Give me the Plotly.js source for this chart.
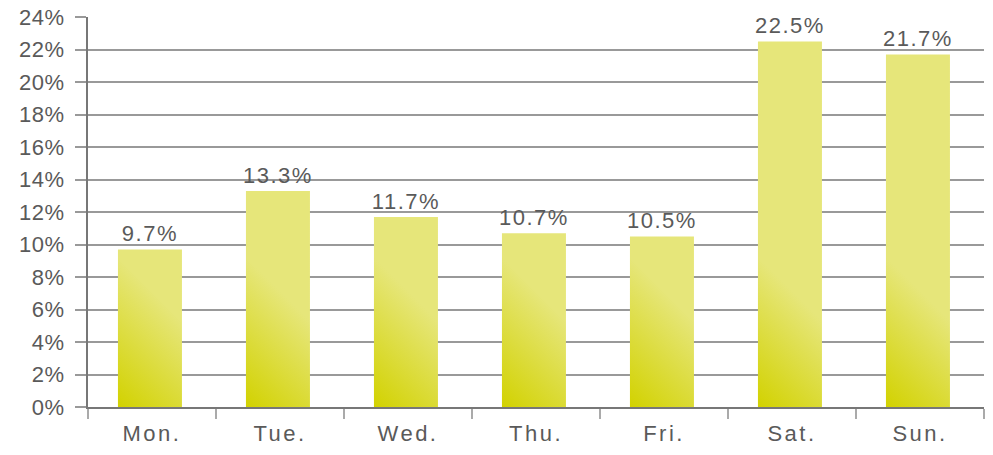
<!DOCTYPE html>
<html>
<head>
<meta charset="utf-8">
<script src="https://cdn.plot.ly/plotly-3.0.1.min.js"></script>
<style>
html,body{margin:0;padding:0;background:#fff;}
#chart{width:993px;height:455px;}
#chart .xtick text{letter-spacing:2.5px;}
#chart .bars text{letter-spacing:1.5px;}
#chart .ytick text{letter-spacing:0.5px;}
</style>
</head>
<body>
<div id="chart"></div>
<script>
const days = ['Mon.', 'Tue.', 'Wed.', 'Thu.', 'Fri.', 'Sat.', 'Sun.'];
const shares = [9.7, 13.3, 11.7, 10.7, 10.5, 22.5, 21.7];
const yTicks = [0, 2, 4, 6, 8, 10, 12, 14, 16, 18, 20, 22, 24];

const font = {family: 'Liberation Sans, Arial, sans-serif', size: 22, color: '#5a5a5a'};

const trace = {
  type: 'bar',
  x: days,
  y: shares,
  width: 0.5,
  offset: -0.266,
  marker: {color: '#e3e36a', line: {width: 0}},
  text: shares.map(v => v.toFixed(1) + '%'),
  textposition: 'outside',
  textfont: font,
  cliponaxis: false,
  hoverinfo: 'none'
};

const layout = {
  width: 993,
  height: 455,
  margin: {l: 88, r: 9, t: 17, b: 48},
  paper_bgcolor: '#ffffff',
  plot_bgcolor: '#ffffff',
  font: font,
  showlegend: false,
  xaxis: {
    type: 'category',
    tickson: 'boundaries',
    ticks: 'outside',
    ticklen: 10,
    tickwidth: 2,
    tickcolor: '#aaaaaa',
    showline: true,
    linecolor: '#777777',
    linewidth: 2,
    showgrid: false,
    tickfont: font,
    ticklabelstandoff: 6,
    fixedrange: true
  },
  yaxis: {
    range: [0, 24],
    tickvals: yTicks,
    ticktext: yTicks.map(v => v + '%'),
    ticks: 'outside',
    ticklen: 11,
    tickwidth: 2,
    tickcolor: '#999999',
    showline: true,
    linecolor: '#777777',
    linewidth: 2,
    showgrid: true,
    gridcolor: '#999999',
    gridwidth: 2,
    zeroline: false,
    tickfont: font,
    ticklabelstandoff: 6,
    fixedrange: true
  }
};

Plotly.newPlot('chart', [trace], layout, {staticPlot: true}).then(function (gd) {
  const svgNS = 'http://www.w3.org/2000/svg';
  const svg = gd.querySelector('svg.main-svg');
  let defs = svg.querySelector('defs');
  if (!defs) { defs = document.createElementNS(svgNS, 'defs'); svg.insertBefore(defs, svg.firstChild); }
  const paths = gd.querySelectorAll('.bars .point path');
  paths.forEach(function (p, i) {
    const b = p.getBBox();
    const g = document.createElementNS(svgNS, 'linearGradient');
    g.setAttribute('id', 'bargrad' + i);
    g.setAttribute('gradientUnits', 'userSpaceOnUse');
    g.setAttribute('x1', b.x);
    g.setAttribute('y1', b.y + b.height);
    g.setAttribute('x2', b.x + 75);
    g.setAttribute('y2', b.y + b.height - 75);
    const s1 = document.createElementNS(svgNS, 'stop');
    s1.setAttribute('offset', '0');
    s1.setAttribute('stop-color', '#d2d200');
    const s2 = document.createElementNS(svgNS, 'stop');
    s2.setAttribute('offset', '1');
    s2.setAttribute('stop-color', '#e6e67a');
    g.appendChild(s1); g.appendChild(s2);
    defs.appendChild(g);
    p.style.fill = 'url(#bargrad' + i + ')';
    p.style.fillOpacity = 1;
  });
});
</script>
</body>
</html>
